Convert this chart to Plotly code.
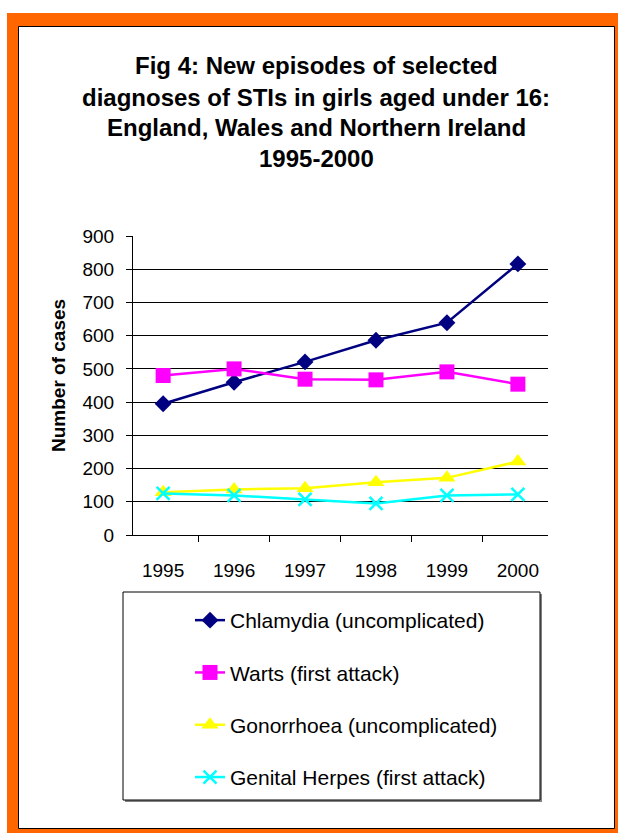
import plotly.graph_objects as go

years = ["1995", "1996", "1997", "1998", "1999", "2000"]
chlamydia = [395, 460, 521, 586, 639, 816]
warts = [480, 500, 469, 467, 491, 454]
gonorrhoea = [129, 137, 141, 159, 172, 221]
herpes = [125, 119, 107, 95, 119, 122]

series_names = ["Chlamydia (uncomplicated)", "Warts (first attack)",
                "Gonorrhoea (uncomplicated)", "Genital Herpes (first attack)"]
title_lines = ["Fig 4: New episodes of selected",
               "diagnoses of STIs in girls aged under 16:",
               "England, Wales and Northern Ireland",
               "1995-2000"]
y_ticks = [0, 100, 200, 300, 400, 500, 600, 700, 800, 900]
grid_vals = [100, 200, 300, 400, 500, 600, 700, 800]

W, H = 618, 833
L, R, T, B = 133, 548, 236, 535
FONT = "Arial, Liberation Sans, sans-serif"


def px(x):
    return (x - L) / (R - L)


def py(y):
    return (B - y) / (B - T)


fig = go.Figure()
styles = [
    dict(color="#000080", symbol="diamond", size=13, lw=2.5),
    dict(color="#FF00FF", symbol="square", size=15, lw=2.5),
    dict(color="#FFFF00", symbol="triangle-up", size=15, lw=2.5),
    dict(color="#00FFFF", symbol="x-thin", size=13, lw=2.5),
]
for i, (name, vals) in enumerate(zip(series_names, [chlamydia, warts, gonorrhoea, herpes])):
    s = styles[i]
    marker = dict(symbol=s["symbol"], size=s["size"], color=s["color"],
                  line=dict(color=s["color"], width=2.5 if s["symbol"] == "x-thin" else 0))
    fig.add_trace(go.Scatter(x=years, y=vals, name=name, mode="lines+markers",
                             line=dict(color=s["color"], width=s["lw"]),
                             marker=marker, legendgroup=str(i)))

# invisible trace to host gridline axis
fig.add_trace(go.Scatter(x=years, y=chlamydia, yaxis="y2", showlegend=False,
                         mode="lines", line=dict(width=0), hoverinfo="skip", opacity=0))

shapes = [
    dict(type="rect", xref="paper", yref="paper", x0=px(7), x1=px(625), y0=py(840), y1=py(13),
         fillcolor="#FF6600", line=dict(width=0), layer="below"),
    dict(type="rect", xref="paper", yref="paper", x0=px(18.5), x1=px(614.5), y0=py(828.5), y1=py(26.5),
         fillcolor="white", line=dict(color="black", width=1), layer="below"),
    dict(type="rect", xref="paper", yref="paper", x0=px(125), x1=px(542), y0=py(802), y1=py(594),
         fillcolor="#808080", line=dict(width=0), layer="below"),
    dict(type="rect", xref="paper", yref="paper", x0=px(123), x1=px(540), y0=py(800), y1=py(592),
         fillcolor="white", line=dict(color="black", width=1), layer="below"),
]

annotations = []
title_y = [66, 97, 127, 158]
for line, yy in zip(title_lines, title_y):
    annotations.append(dict(text="<b>" + line + "</b>", x=px(316), y=py(yy), xref="paper", yref="paper",
                            showarrow=False, xanchor="center", yanchor="middle",
                            font=dict(family=FONT, size=24, color="black")))
annotations.append(dict(text="<b>Number of cases</b>", x=px(58), y=py(376), xref="paper", yref="paper",
                        showarrow=False, textangle=-90, xanchor="center", yanchor="middle",
                        font=dict(family=FONT, size=19, color="black")))

fig.update_layout(
    width=W, height=H,
    margin=dict(l=L, r=W - R, t=T, b=H - B, pad=0),
    paper_bgcolor="white", plot_bgcolor="white",
    font=dict(family=FONT, size=19, color="black"),
    shapes=shapes, annotations=annotations,
    xaxis=dict(type="category", tickson="boundaries", ticks="outside", ticklen=6,
               tickcolor="black", showline=True, linecolor="black", linewidth=1,
               showgrid=False, ticklabelstandoff=18, tickfont=dict(size=19)),
    yaxis=dict(range=[0, 900], tickvals=y_ticks, ticks="outside", ticklen=6, tickcolor="black",
               showline=True, linecolor="black", linewidth=1, showgrid=False, zeroline=False,
               ticklabelstandoff=8, tickfont=dict(size=19)),
    yaxis2=dict(range=[0, 900], overlaying="y", tickvals=grid_vals, showgrid=True,
                gridcolor="black", gridwidth=1, showticklabels=False, ticks="", zeroline=False,
                showline=False),
    legend=dict(x=px(190), y=py(600), xanchor="left", yanchor="top", bgcolor="rgba(0,0,0,0)",
                borderwidth=0, tracegroupgap=22, font=dict(family=FONT, size=21, color="black"),
                itemwidth=30),
    showlegend=True,
)

fig.write_html("out.html")
